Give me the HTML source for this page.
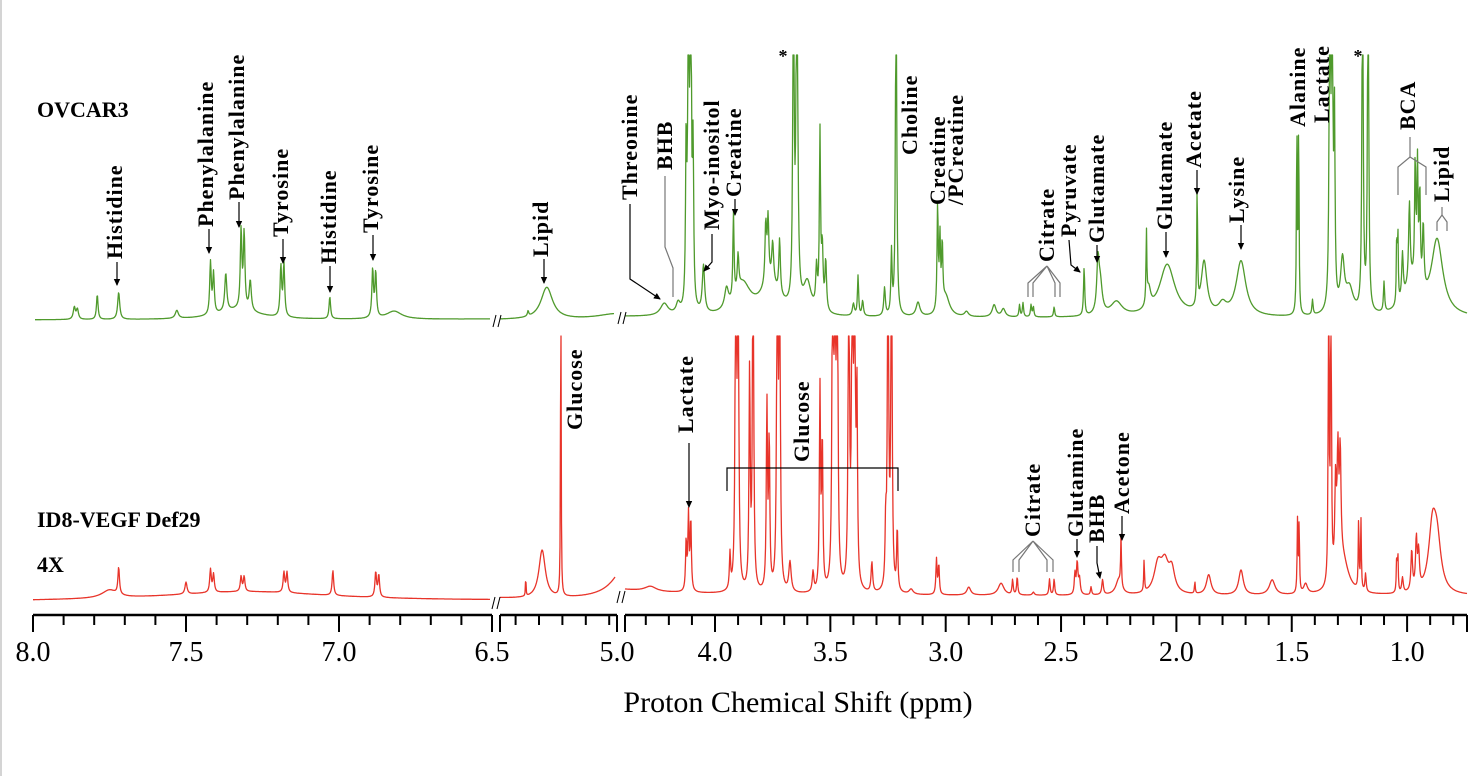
<!DOCTYPE html>
<html><head><meta charset="utf-8"><title>NMR spectra</title>
<style>html,body{margin:0;padding:0;background:#fff}svg{display:block}</style></head>
<body>
<svg id="chart" width="1484" height="776" viewBox="0 0 1484 776" xmlns="http://www.w3.org/2000/svg" font-family="'Liberation Serif', serif">
<defs><marker id="ah" markerWidth="8" markerHeight="8" refX="6" refY="4" orient="auto" markerUnits="userSpaceOnUse"><path d="M0,0.8 L7,4 L0,7.2 Z" fill="#000"/></marker></defs>
<rect x="0" y="0" width="1484" height="776" fill="#fff"/>
<line x1="1" y1="0" x2="1" y2="776" stroke="#d4d4d4" stroke-width="2"/>
<g id="spectra"></g>
<g id="axis"></g>
<g id="labels"></g>
<text x="798" y="712" font-size="30" text-anchor="middle">Proton Chemical Shift (ppm)</text>
<text x="37" y="117" font-size="22" font-weight="bold">OVCAR3</text>
<text x="37" y="527" font-size="22" font-weight="bold">ID8-VEGF Def29</text>
<text x="37" y="572" font-size="22" font-weight="bold">4X</text>
</svg>
<script>
// ---- data: peak positions (ppm), intensities, half-widths (ppm) ----
const greenPpm = [7.865,7.855,7.79,7.72,7.53,7.42,7.41,7.37,7.32,7.31,7.29,7.19,7.18,7.03,6.89,6.88,6.82,7.33,
 6.14,5.90,5.0,
 4.22,4.16,4.125,4.115,4.105,4.095,4.05,3.95,3.92,3.90,3.88,3.78,3.77,3.75,3.72,3.76,3.66,3.645,3.60,3.56,3.545,3.535,3.52,3.38,3.40,3.36,3.265,3.235,3.215,3.12,3.035,3.025,3.015,3.0,2.91,2.79,2.75,2.68,2.665,2.63,2.62,2.53,2.40,2.34,2.33,2.26,2.13,2.12,2.04,1.91,1.88,1.80,1.72,1.478,1.470,1.41,1.335,1.325,1.315,1.28,1.25,1.193,1.169,1.10,1.045,1.04,1.02,0.99,0.965,0.955,0.945,0.93,0.87,0.98];
const greenInt = [12,10,25,27,8,52,40,38,78,75,30,50,52,22,48,45,8,10,
 5,32,6,
 12,10,160,400,400,150,47,20,85,35,30,60,62,40,55,30,400,400,30,40,175,60,50,40,12,15,28,62,400,14,105,70,62,20,5,12,8,12,14,12,10,10,48,48,30,14,72,20,52,122,52,10,55,190,190,15,400,400,185,50,25,400,400,30,70,70,45,80,120,118,95,65,75,30];
const greenWid = [.004,.004,.003,.004,.006,.003,.003,.004,.003,.003,.004,.003,.003,.003,.003,.003,.03,.08,
 .01,.09,.3,
 .02,.01,.003,.003,.003,.003,.006,.01,.003,.004,.04,.004,.004,.005,.004,.05,.003,.004,.02,.004,.003,.004,.004,.003,.005,.004,.004,.003,.003,.01,.003,.003,.003,.02,.01,.01,.01,.003,.003,.003,.003,.003,.003,.006,.01,.03,.002,.01,.04,.002,.015,.02,.025,.002,.002,.003,.003,.003,.003,.01,.02,.003,.003,.003,.002,.002,.004,.004,.003,.003,.003,.004,.03,.04];
const redPpm = [7.75,7.72,7.50,7.42,7.41,7.32,7.31,7.18,7.17,7.02,6.88,6.87,7.3,
 6.17,5.96,5.72,4.85,
 4.28,4.125,4.115,4.105,3.935,3.91,3.90,3.85,3.835,3.775,3.765,3.73,3.72,3.675,3.575,3.545,3.535,3.49,3.48,3.47,3.42,3.405,3.395,3.385,3.32,3.26,3.25,3.235,3.21,3.15,3.04,3.03,2.90,2.76,2.71,2.69,2.62,2.55,2.53,2.44,2.43,2.42,2.37,2.32,2.24,2.25,2.14,2.08,2.05,2.02,1.92,1.86,1.72,1.585,1.475,1.468,1.44,1.34,1.33,1.30,1.29,1.31,1.28,1.21,1.20,1.18,1.045,1.04,1.02,0.98,0.96,0.95,0.89,0.87];
const redInt = [8,27,12,23,18,15,15,20,20,25,25,22,10,
 22,48,400,40,
 5,50,75,72,35,400,400,220,400,185,150,400,400,30,20,200,150,400,400,400,400,400,400,190,30,60,400,400,63,5,35,30,8,12,15,18,3,16,16,20,32,15,8,15,50,15,32,28,28,22,12,20,25,15,72,70,10,400,400,110,108,90,35,73,70,18,37,37,15,40,50,35,62,45];
const redWid = [.03,.003,.004,.003,.003,.003,.003,.003,.003,.003,.003,.003,.35,
 .004,.05,.004,.2,
 .03,.003,.003,.003,.003,.003,.003,.003,.003,.003,.003,.003,.003,.006,.004,.003,.003,.003,.003,.003,.003,.003,.003,.003,.004,.003,.003,.003,.003,.01,.003,.003,.01,.015,.003,.003,.005,.003,.003,.003,.004,.004,.003,.004,.002,.015,.002,.02,.02,.015,.002,.012,.012,.015,.002,.002,.01,.002,.002,.004,.004,.004,.03,.002,.002,.003,.002,.002,.004,.004,.004,.004,.02,.02];
const tickLabels = ["8.0","7.5","7.0","6.5","5.0","4.0","3.5","3.0","2.5","2.0","1.5","1.0"];
const tickValues = [8.0,7.5,7.0,6.5,5.0,4.0,3.5,3.0,2.5,2.0,1.5,1.0];

// ---- axis segments (broken ppm axis) ----
const segs = [
  {x0:33, x1:492, p0:8.0, scale:306, tickStep:0.1},
  {x0:500, x1:617, p0:6.5, scale:78, tickStep:0.3},
  {x0:625, x1:1467, p0:4.0+(715-625)/230.7, scale:230.7, tickStep:0.1, ref:715, refP:4.0}
];
function xOf(seg, p){ return seg.ref!==undefined ? seg.ref+(seg.refP-p)*seg.scale : seg.x0+(seg.p0-p)*seg.scale; }
function pOf(seg, x){ return seg.ref!==undefined ? seg.refP-(x-seg.ref)/seg.scale : seg.p0-(x-seg.x0)/seg.scale; }
const NS='http://www.w3.org/2000/svg';
function mk(tag, attrs, parent){ const e=document.createElementNS(NS,tag); for(const k in attrs) e.setAttribute(k,attrs[k]); parent.appendChild(e); return e; }

const spectra=document.getElementById('spectra');
function drawSpectrum(name, P, I, W, base, top, color, ranges){
  ranges.forEach((r,si)=>{
    const seg=segs[si]; let d='';
    for(let x=r[0]; x<=r[1]; x+=0.5){
      const p=pOf(seg,x); let s=0;
      for(let i=0;i<P.length;i++){ const u=(p-P[i])/W[i]; s+=I[i]/(1+u*u); }
      let y=base[si]-s; if(y<top) y=top;
      d+=(d?'L':'M')+x.toFixed(1)+','+y.toFixed(1);
    }
    const path=mk('path',{d:d,fill:'none',stroke:color,'stroke-width':1.3,'stroke-linejoin':'round'},spectra);
    
    
  });
}
drawSpectrum('ovcar3-spectrum', greenPpm, greenInt, greenWid, [320,320,318], 55, '#4f9a2c', [[35,490],[500,614],[625,1467]]);
drawSpectrum('id8-spectrum', redPpm, redInt, redWid, [602,600,596], 336, '#e8342a', [[33,490],[500,615],[625,1467]]);

// break marks
[[497,321],[622,318],[496,603],[621,597]].forEach((b,i)=>{
  const g=mk('g',{},spectra);
  
  
  mk('line',{x1:b[0]-4,y1:b[1]+6,x2:b[0]-1,y2:b[1]-6,stroke:'#000','stroke-width':1},g);
  mk('line',{x1:b[0]+1,y1:b[1]+6,x2:b[0]+4,y2:b[1]-6,stroke:'#000','stroke-width':1},g);
});

// axis
const axis=document.getElementById('axis');
const AY=615;
segs.forEach((seg,si)=>{
  const l=mk('line',{x1:seg.x0,y1:AY,x2:seg.x1,y2:AY,stroke:'#000','stroke-width':2.5},axis);
  
  
  const pStart=pOf(seg,seg.x0), pEnd=pOf(seg,seg.x1);
  const n0=Math.ceil((pEnd-1e-6)/seg.tickStep), n1=Math.floor((pStart+1e-6)/seg.tickStep);
  for(let n=n0;n<=n1;n++){
    const p=n*seg.tickStep; const x=xOf(seg,p);
    if(x<seg.x0-1||x>seg.x1+1) continue;
    const major = si===1 ? (Math.abs(p-6.5)<1e-6||Math.abs(p-5.0)<1e-6) : Math.abs(p*2-Math.round(p*2))<1e-6;
    const t=mk('line',{x1:x,y1:AY,x2:x,y2:AY+(major?17:10),stroke:'#000','stroke-width':2},axis);
    
    
  }
  [seg.x0,seg.x1].forEach(xe=>{
    const t=mk('line',{x1:xe,y1:AY,x2:xe,y2:AY+17,stroke:'#000','stroke-width':2},axis);
    
    
  });
});
tickValues.forEach((v,i)=>{
  let seg = v>6.5 ? segs[0] : (v>=5.0 ? segs[1] : segs[2]);
  if(v===6.5) seg=segs[0];
  let x=xOf(seg,v); if(v===5.0) x=617;
  const t=mk('text',{x:x,y:661,'font-size':28,'text-anchor':'middle'},axis);
  t.textContent=tickLabels[i];
  
  
});

// annotations
const labels=document.getElementById('labels');
function vlabel(name, txt, cx, yb){
  const t=mk('text',{transform:'translate('+(cx+7)+','+yb+') rotate(-90)','font-size':22,'font-weight':'bold','letter-spacing':1},labels);
  t.textContent=txt;
  
  
}
function arrow(name, pts, head){
  const pl=mk('polyline',{points:pts.map(p=>p.join(',')).join(' '),fill:'none',stroke:'#000','stroke-width':1.2},labels);
  if(head) pl.setAttribute('marker-end','url(#ah)');
  
  
}
function fork(name, pts){
  const pl=mk('polyline',{points:pts.map(p=>p.join(',')).join(' '),fill:'none',stroke:'#777','stroke-width':1.2},labels);
  
  
}
// green
vlabel('histidine-label','Histidine',115,259); arrow('histidine-arrow',[[117,262],[117,285]],true);
vlabel('phenylalanine-label','Phenylalanine',206,227); arrow('phenylalanine-arrow',[[209,229],[209,253]],true);
vlabel('phenylalanine-label-2','Phenylalanine',237,200); arrow('phenylalanine-arrow-2',[[239,202],[239,227]],true);
vlabel('tyrosine-label','Tyrosine',281,237); arrow('tyrosine-arrow',[[283,239],[283,263]],true);
vlabel('histidine-label-2','Histidine',329,264); arrow('histidine-arrow-2',[[330,266],[330,292]],true);
vlabel('tyrosine-label-2','Tyrosine',371,233); arrow('tyrosine-arrow-2',[[373,235],[373,260]],true);
vlabel('lipid-label','Lipid',541,257); arrow('lipid-arrow',[[544,259],[544,283]],true);
vlabel('threonine-label','Threonine',630,200); arrow('threonine-arrow',[[630,204],[630,279],[660,299]],true);
vlabel('bhb-label','BHB',665,170); fork('bhb-leader',[[665,176],[665,247],[673,268],[673,297]]);
vlabel('myo-inositol-label','Myo-inositol',712,230); arrow('myo-inositol-arrow',[[712,234],[712,262],[704,271]],true);
vlabel('creatine-label','Creatine',734,197); arrow('creatine-arrow',[[735,199],[735,215]],true);
vlabel('choline-label','Choline',910,155);
vlabel('creatine-label-2','Creatine',938,205);
vlabel('pcreatine-label','/PCreatine',956,205);
vlabel('citrate-label','Citrate',1047,262);
fork('citrate-fork',[[1028,297],[1028,283],[1047,266],[1033,283],[1033,297]]);
fork('citrate-fork-2',[[1055,297],[1055,283],[1047,266],[1060,283],[1060,297]]);
vlabel('pyruvate-label','Pyruvate',1069,237); arrow('pyruvate-arrow',[[1069,240],[1071,265],[1080,272]],true);
vlabel('glutamate-label','Glutamate',1097,243); arrow('glutamate-arrow',[[1097,245],[1097,262]],true);
vlabel('glutamate-label-2','Glutamate',1165,230); arrow('glutamate-arrow-2',[[1166,232],[1166,257]],true);
vlabel('acetate-label','Acetate',1194,168); arrow('acetate-arrow',[[1197,170],[1197,194]],true);
vlabel('lysine-label','Lysine',1237,223); arrow('lysine-arrow',[[1241,225],[1241,249]],true);
vlabel('alanine-label','Alanine',1298,127);
vlabel('lactate-label','Lactate',1322,123);
vlabel('bca-label','BCA',1408,130);
fork('bca-fork',[[1398,195],[1398,167],[1410,157],[1426,167],[1426,195]]);
fork('bca-stem',[[1410,137],[1410,157]]);
vlabel('lipid-label-2','Lipid',1442,202);
fork('lipid-fork',[[1437,231],[1437,222],[1442,215],[1447,222],[1447,231]]);
fork('lipid-stem',[[1442,207],[1442,215]]);
// red
vlabel('glucose-label','Glucose',575,430);
vlabel('lactate-label-2','Lactate',686,433); arrow('lactate-arrow',[[689,443],[689,507]],true);
vlabel('glucose-label-2','Glucose',802,462);
arrow('glucose-bracket',[[727,491],[727,468],[898,468],[898,491]],false);
vlabel('citrate-label-2','Citrate',1033,537);
fork('citrate-fork-3',[[1013,572],[1013,560],[1033,541],[1019,560],[1019,572]]);
fork('citrate-fork-4',[[1047,572],[1047,560],[1033,541],[1053,560],[1053,572]]);
vlabel('glutamine-label','Glutamine',1076,537); arrow('glutamine-arrow',[[1077,539],[1077,557]],true);
vlabel('bhb-label-2','BHB',1097,543); arrow('bhb-arrow',[[1097,546],[1097,563],[1100,578]],true);
vlabel('acetone-label','Acetone',1122,514); arrow('acetone-arrow',[[1122,516],[1122,540]],true);
// asterisks
[[783,62],[1358,62]].forEach(a=>{
  const t=mk('text',{x:a[0],y:a[1],'font-size':18,'font-weight':'bold','text-anchor':'middle'},labels);
  t.textContent='*';
  
  
});
</script>
</body></html>
